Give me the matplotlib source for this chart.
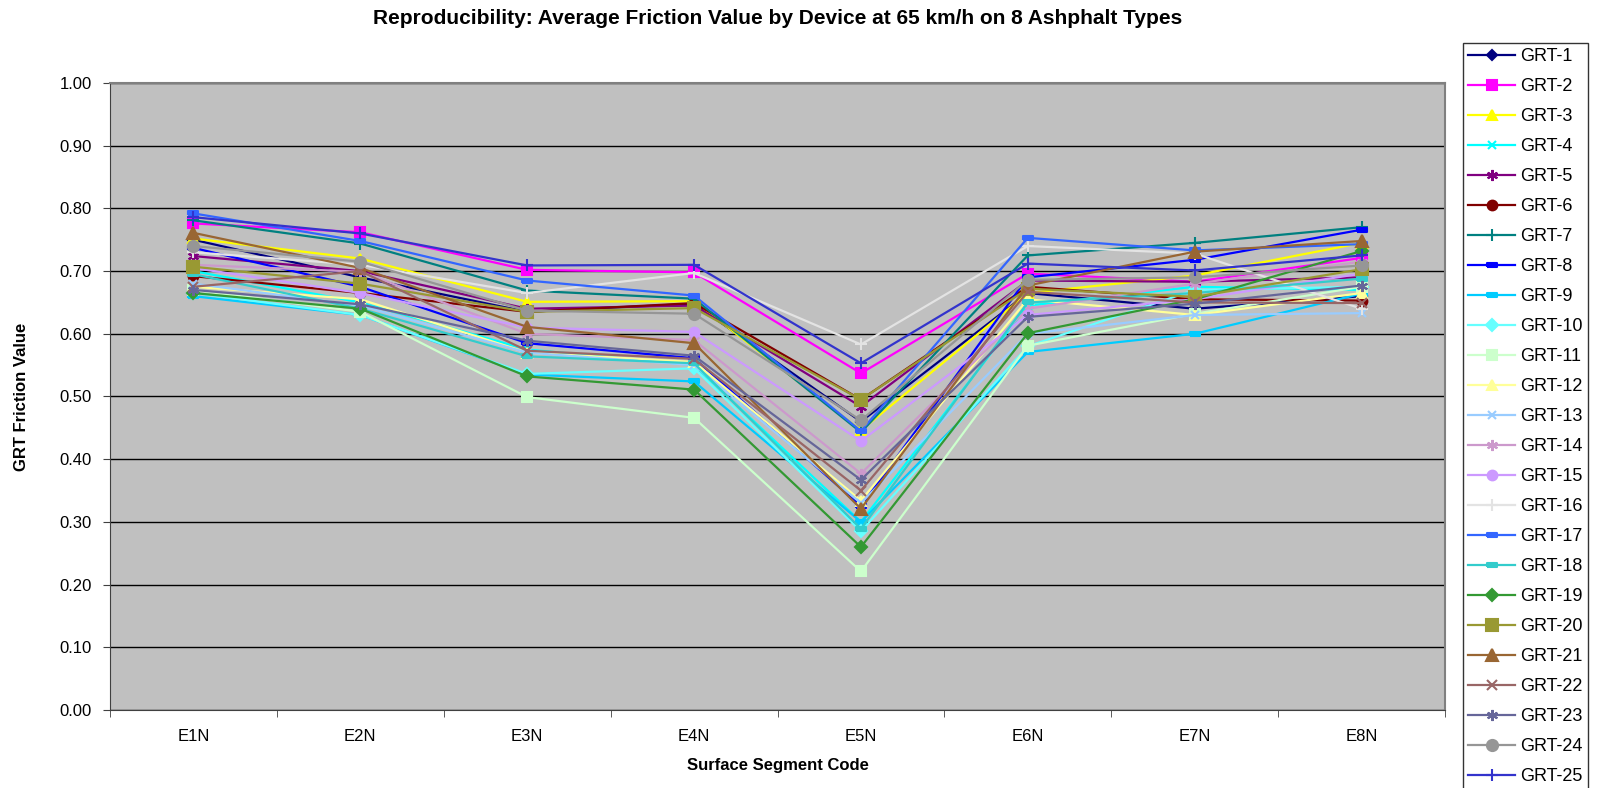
import matplotlib
matplotlib.use('Agg')
import matplotlib.pyplot as plt
from matplotlib.ticker import MultipleLocator, FixedLocator

plt.rcParams['font.family'] = ['Liberation Sans', 'DejaVu Sans']

segments = ['E1N', 'E2N', 'E3N', 'E4N', 'E5N', 'E6N', 'E7N', 'E8N']

grt_1 = [0.750, 0.690, 0.635, 0.648, 0.460, 0.665, 0.640, 0.660]
grt_2 = [0.776, 0.762, 0.702, 0.698, 0.537, 0.696, 0.683, 0.721]
grt_3 = [0.752, 0.720, 0.651, 0.652, 0.446, 0.665, 0.693, 0.745]
grt_4 = [0.700, 0.650, 0.575, 0.550, 0.300, 0.645, 0.675, 0.670]
grt_5 = [0.724, 0.700, 0.640, 0.645, 0.484, 0.685, 0.683, 0.690]
grt_6 = [0.692, 0.665, 0.635, 0.649, 0.495, 0.675, 0.655, 0.653]
grt_7 = [0.781, 0.744, 0.669, 0.656, 0.443, 0.725, 0.745, 0.770]
grt_8 = [0.737, 0.675, 0.585, 0.561, 0.325, 0.690, 0.718, 0.766]
grt_9 = [0.660, 0.630, 0.535, 0.524, 0.300, 0.571, 0.600, 0.664]
grt_10 = [0.665, 0.630, 0.536, 0.545, 0.285, 0.580, 0.670, 0.675]
grt_11 = [0.670, 0.635, 0.499, 0.466, 0.221, 0.581, 0.632, 0.675]
grt_12 = [0.675, 0.655, 0.570, 0.555, 0.334, 0.655, 0.630, 0.665]
grt_13 = [0.680, 0.645, 0.570, 0.550, 0.330, 0.600, 0.630, 0.633]
grt_14 = [0.710, 0.699, 0.600, 0.590, 0.377, 0.640, 0.680, 0.715]
grt_15 = [0.705, 0.665, 0.610, 0.603, 0.429, 0.630, 0.655, 0.696]
grt_16 = [0.730, 0.710, 0.665, 0.697, 0.583, 0.740, 0.728, 0.640]
grt_17 = [0.792, 0.748, 0.685, 0.661, 0.445, 0.753, 0.733, 0.743]
grt_18 = [0.695, 0.640, 0.564, 0.553, 0.289, 0.650, 0.665, 0.688]
grt_19 = [0.665, 0.640, 0.532, 0.511, 0.260, 0.601, 0.655, 0.732]
grt_20 = [0.707, 0.680, 0.635, 0.641, 0.495, 0.672, 0.659, 0.703]
grt_21 = [0.761, 0.705, 0.611, 0.585, 0.321, 0.677, 0.731, 0.748]
grt_22 = [0.675, 0.700, 0.573, 0.560, 0.350, 0.667, 0.650, 0.649]
grt_23 = [0.670, 0.647, 0.589, 0.565, 0.367, 0.627, 0.648, 0.677]
grt_24 = [0.740, 0.715, 0.637, 0.632, 0.462, 0.686, 0.690, 0.709]
grt_25 = [0.786, 0.760, 0.709, 0.710, 0.553, 0.712, 0.701, 0.725]

series = [grt_1, grt_2, grt_3, grt_4, grt_5, grt_6, grt_7, grt_8, grt_9, grt_10,
          grt_11, grt_12, grt_13, grt_14, grt_15, grt_16, grt_17, grt_18, grt_19,
          grt_20, grt_21, grt_22, grt_23, grt_24, grt_25]
labels = ['GRT-%d' % (i + 1) for i in range(len(series))]

# excel-like styles
dash = [(-1, -0.35), (1, -0.35), (1, 0.35), (-1, 0.35), (-1, -0.35)]
star = (6, 2, 0)
styles = [
    ('#000080', 'D', 5.5), ('#FF00FF', 's', 7), ('#FFFF00', '^', 7), ('#00FFFF', 'x', 6),
    ('#800080', star, 8), ('#800000', 'o', 7), ('#008080', '+', 8), ('#0000FF', dash, 7),
    ('#00CCFF', dash, 7), ('#66FFFF', 'D', 6), ('#CCFFCC', 's', 7), ('#FFFF99', '^', 7),
    ('#99CCFF', 'x', 6), ('#CC99CC', star, 8), ('#CC99FF', 'o', 7), ('#E3E3E3', '+', 8),
    ('#3366FF', dash, 7), ('#33CCCC', dash, 7), ('#339933', 'D', 6), ('#999933', 's', 8),
    ('#996633', '^', 8), ('#996666', 'x', 7), ('#666699', star, 8), ('#969696', 'o', 8),
    ('#3333CC', '+', 8),
]

fig = plt.figure(figsize=(16.02, 7.88), dpi=100)
ax = fig.add_axes([110 / 1602, 78 / 788, 1335 / 1602, 627 / 788])
ax.set_facecolor('#C0C0C0')

x = list(range(len(segments)))
handles = []
for vals, lab, (col, mk, ms) in zip(series, labels, styles):
    h, = ax.plot(x, vals, color=col, marker=mk, markersize=ms, linewidth=1.6,
                 markeredgewidth=1.5, markerfacecolor=col, markeredgecolor=col, label=lab)
    handles.append(h)

ax.set_xlim(-0.5, len(segments) - 0.5)
ax.set_ylim(0, 1.0)
ax.yaxis.set_major_locator(MultipleLocator(0.1))
ax.yaxis.set_major_formatter(plt.FuncFormatter(lambda v, p: '%.2f' % v))
ax.grid(axis='y', color='black', linewidth=1.0)
ax.set_axisbelow(True)

ax.set_xticks(x)
ax.set_xticklabels(segments)
ax.xaxis.set_minor_locator(FixedLocator([i - 0.5 for i in range(len(segments) + 1)]))
ax.tick_params(axis='x', which='major', length=0, pad=14, labelsize=12)
ax.tick_params(axis='x', which='minor', length=5, direction='out', color='#404040')
ax.tick_params(axis='y', length=5, labelsize=12, pad=8, color='#404040')

for side in ['top', 'right']:
    ax.spines[side].set_color('#808080')
    ax.spines[side].set_linewidth(1.5)
for side in ['left', 'bottom']:
    ax.spines[side].set_color('#404040')

ax.set_xlabel('Surface Segment Code', fontsize=12, fontweight='bold', labelpad=10)
ax.set_ylabel('GRT Friction Value', fontsize=12, fontweight='bold', labelpad=22)
fig.text((110 + 1445) / 2 / 1602, 1 - 19 / 788,
         'Reproducibility: Average Friction Value by Device at 65 km/h on 8 Ashphalt Types',
         fontsize=15, fontweight='bold', ha='center', va='center')

leg = fig.legend(handles=handles, loc='upper left', bbox_to_anchor=(1463 / 1602, 1 - 43 / 788),
                 frameon=True, fancybox=False, fontsize=13, labelspacing=0.72,
                 handlelength=2.6, handletextpad=0.25, borderpad=0.3, borderaxespad=0)
leg.get_frame().set_edgecolor('black')
leg.get_frame().set_linewidth(1.0)

fig.savefig('out.png', dpi=100)
